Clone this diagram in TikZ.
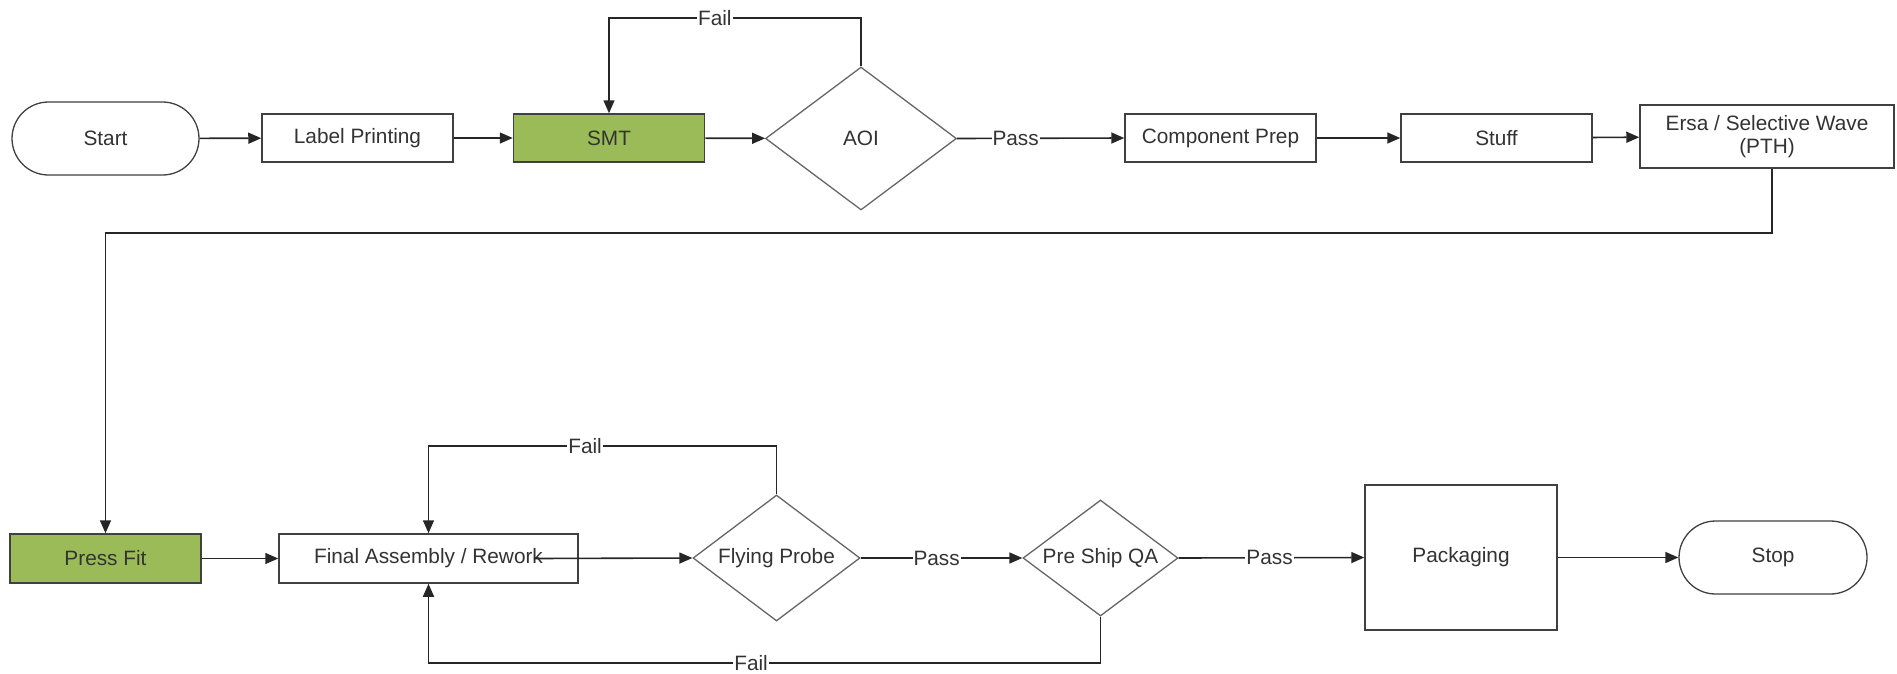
\documentclass[tikz,border=0pt]{standalone}
\usepackage{fontspec}
\setmainfont{Liberation Sans}
\usetikzlibrary{shapes.geometric,shapes.misc,arrows.meta}
\definecolor{grn}{HTML}{9BBB59}
\definecolor{edge}{HTML}{404040}
\definecolor{txt}{HTML}{333333}
\begin{document}
\begin{tikzpicture}[x=1pt,y=-1pt,
  every node/.style={font=\fontsize{20.8}{23}\selectfont, text=txt, inner sep=2pt},
  box/.style={draw=edge, line width=1.5pt, rectangle, minimum width=191pt, minimum height=48pt, fill=white},
  gbox/.style={box, fill=grn},
  term/.style={draw=edge, line width=1.3pt, rounded rectangle, minimum width=191pt, minimum height=73pt, fill=white},
  dec/.style={draw=edge!80, line width=1.3pt, diamond, inner sep=0pt, fill=white},
  declabel/.style={label={[font=\fontsize{20.8}{23}\selectfont, text=txt, inner sep=0pt]center:#1}},
  conn/.style={draw=black!85, line width=1.6pt, -{Triangle[length=13pt,width=11pt]}},
  lbl/.style={fill=white, inner sep=1pt}
]
\useasboundingbox (0,0) rectangle (1897,673);

\node[term] (start) at (105.5,138.5) {Start};
\node[box] (label) at (357.5,138) {Label Printing};
\node[gbox] (smt) at (609,138) {SMT};
\node[dec, minimum width=191pt, minimum height=143pt] (aoi) at (861,138.5) {AOI};
\node[box] (comp) at (1220.5,138) {Component Prep};
\node[box] (stuff) at (1496.5,138) {Stuff};
\node[box, minimum width=254pt, minimum height=63pt, align=center] (ersa) at (1767,136.5) {Ersa / Selective Wave\\(PTH)};

\node[gbox, minimum height=49pt] (press) at (105.5,558.5) {Press Fit};
\node[box, minimum width=299pt, minimum height=49pt] (fa) at (428.5,558.5) {Final Assembly / Rework};
\node[dec, minimum width=167pt, minimum height=126pt, declabel={Flying Probe}] (fp) at (776.5,558) {};
\node[dec, minimum width=155pt, minimum height=116pt, declabel={Pre Ship QA}] (qa) at (1100.5,558) {};
\node[box, minimum width=192pt, minimum height=145pt] (pack) at (1461,557.5) {Packaging};
\node[term, minimum width=192pt] (stop) at (1773,557.5) {Stop};

\coordinate (aoiT) at (861,18);
\coordinate (smtT) at (609,18);
\coordinate (e1) at (1772,233);
\coordinate (e2) at (105.5,233);
\coordinate (fpT) at (776.5,446);
\coordinate (faT) at (428.5,446);
\coordinate (qaB) at (1100.5,663);
\coordinate (faB) at (428.5,663);

\draw[conn] (start) -- (label);
\draw[conn] (label) -- (smt);
\draw[conn] (smt) -- (aoi);
\draw[conn] (aoi.north) -- (aoiT) -- node[lbl, pos=0.58]{Fail} (smtT) -- (smt.north);
\draw[conn] (aoi.east) -- node[lbl, pos=0.35]{Pass} (comp.west);
\draw[conn] (comp) -- (stuff);
\draw[conn] (stuff) -- (ersa);
\draw[conn] (ersa.south -| e1) -- (e1) -- (e2) -- (press.north);

\draw[conn] (press) -- (fa);
\draw[conn] ([xshift=-45pt]fa.east) -- (fp.west);
\draw[conn] (fp.north) -- (fpT) -- node[lbl, pos=0.55]{Fail} (faT) -- (fa.north);
\draw[conn] (fp.east) -- node[lbl, pos=0.47]{Pass} (qa.west);
\draw[conn] (qa.east) -- node[lbl, pos=0.49]{Pass} (pack.west);
\draw[conn] (pack) -- (stop);
\draw[conn] (qa.south) -- (qaB) -- node[lbl, pos=0.52]{Fail} (faB) -- (fa.south);
\end{tikzpicture}
\end{document}
